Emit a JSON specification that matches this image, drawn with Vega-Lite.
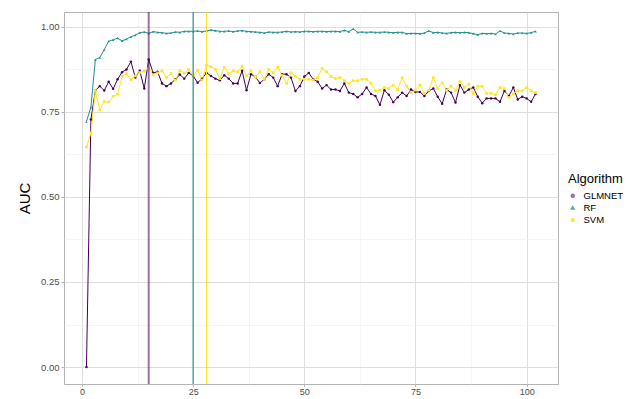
{
"$schema": "https://vega.github.io/schema/vega-lite/v6.json",
"autosize": "none",
"width": 494,
"height": 372,
"padding": {"left": 64, "top": 12, "right": 85, "bottom": 15},
"background": "white",
"config": {
  "font": "Liberation Sans",
  "view": {"stroke": "#b3b3b3", "strokeWidth": 1},
  "axis": {
    "domain": false,
    "labelColor": "#4d4d4d",
    "labelFontSize": 9.5,
    "tickColor": "#b3b3b3",
    "tickSize": 3
  }
},
"datasets": {
"auc": [
{"Algorithm":"GLMNET","iter":1,"AUC":0.000},{"Algorithm":"GLMNET","iter":2,"AUC":0.727},{"Algorithm":"GLMNET","iter":3,"AUC":0.812},{"Algorithm":"GLMNET","iter":4,"AUC":0.825},{"Algorithm":"GLMNET","iter":5,"AUC":0.812},{"Algorithm":"GLMNET","iter":6,"AUC":0.838},{"Algorithm":"GLMNET","iter":7,"AUC":0.817},{"Algorithm":"GLMNET","iter":8,"AUC":0.845},{"Algorithm":"GLMNET","iter":9,"AUC":0.866},{"Algorithm":"GLMNET","iter":10,"AUC":0.874},
{"Algorithm":"GLMNET","iter":11,"AUC":0.897},{"Algorithm":"GLMNET","iter":12,"AUC":0.850},{"Algorithm":"GLMNET","iter":13,"AUC":0.870},{"Algorithm":"GLMNET","iter":14,"AUC":0.818},{"Algorithm":"GLMNET","iter":15,"AUC":0.903},{"Algorithm":"GLMNET","iter":16,"AUC":0.864},{"Algorithm":"GLMNET","iter":17,"AUC":0.867},{"Algorithm":"GLMNET","iter":18,"AUC":0.833},{"Algorithm":"GLMNET","iter":19,"AUC":0.825},{"Algorithm":"GLMNET","iter":20,"AUC":0.833},
{"Algorithm":"GLMNET","iter":21,"AUC":0.845},{"Algorithm":"GLMNET","iter":22,"AUC":0.859},{"Algorithm":"GLMNET","iter":23,"AUC":0.847},{"Algorithm":"GLMNET","iter":24,"AUC":0.864},{"Algorithm":"GLMNET","iter":25,"AUC":0.855},{"Algorithm":"GLMNET","iter":26,"AUC":0.835},{"Algorithm":"GLMNET","iter":27,"AUC":0.847},{"Algorithm":"GLMNET","iter":28,"AUC":0.864},{"Algorithm":"GLMNET","iter":29,"AUC":0.855},{"Algorithm":"GLMNET","iter":30,"AUC":0.847},
{"Algorithm":"GLMNET","iter":31,"AUC":0.842},{"Algorithm":"GLMNET","iter":32,"AUC":0.857},{"Algorithm":"GLMNET","iter":33,"AUC":0.847},{"Algorithm":"GLMNET","iter":34,"AUC":0.833},{"Algorithm":"GLMNET","iter":35,"AUC":0.833},{"Algorithm":"GLMNET","iter":36,"AUC":0.870},{"Algorithm":"GLMNET","iter":37,"AUC":0.813},{"Algorithm":"GLMNET","iter":38,"AUC":0.860},{"Algorithm":"GLMNET","iter":39,"AUC":0.852},{"Algorithm":"GLMNET","iter":40,"AUC":0.834},
{"Algorithm":"GLMNET","iter":41,"AUC":0.845},{"Algorithm":"GLMNET","iter":42,"AUC":0.860},{"Algorithm":"GLMNET","iter":43,"AUC":0.850},{"Algorithm":"GLMNET","iter":44,"AUC":0.825},{"Algorithm":"GLMNET","iter":45,"AUC":0.860},{"Algorithm":"GLMNET","iter":46,"AUC":0.860},{"Algorithm":"GLMNET","iter":47,"AUC":0.850},{"Algorithm":"GLMNET","iter":48,"AUC":0.811},{"Algorithm":"GLMNET","iter":49,"AUC":0.825},{"Algorithm":"GLMNET","iter":50,"AUC":0.853},
{"Algorithm":"GLMNET","iter":51,"AUC":0.864},{"Algorithm":"GLMNET","iter":52,"AUC":0.845},{"Algorithm":"GLMNET","iter":53,"AUC":0.838},{"Algorithm":"GLMNET","iter":54,"AUC":0.818},{"Algorithm":"GLMNET","iter":55,"AUC":0.828},{"Algorithm":"GLMNET","iter":56,"AUC":0.815},{"Algorithm":"GLMNET","iter":57,"AUC":0.815},{"Algorithm":"GLMNET","iter":58,"AUC":0.811},{"Algorithm":"GLMNET","iter":59,"AUC":0.833},{"Algorithm":"GLMNET","iter":60,"AUC":0.806},
{"Algorithm":"GLMNET","iter":61,"AUC":0.802},{"Algorithm":"GLMNET","iter":62,"AUC":0.792},{"Algorithm":"GLMNET","iter":63,"AUC":0.802},{"Algorithm":"GLMNET","iter":64,"AUC":0.821},{"Algorithm":"GLMNET","iter":65,"AUC":0.802},{"Algorithm":"GLMNET","iter":66,"AUC":0.796},{"Algorithm":"GLMNET","iter":67,"AUC":0.770},{"Algorithm":"GLMNET","iter":68,"AUC":0.813},{"Algorithm":"GLMNET","iter":69,"AUC":0.800},{"Algorithm":"GLMNET","iter":70,"AUC":0.778},
{"Algorithm":"GLMNET","iter":71,"AUC":0.792},{"Algorithm":"GLMNET","iter":72,"AUC":0.806},{"Algorithm":"GLMNET","iter":73,"AUC":0.796},{"Algorithm":"GLMNET","iter":74,"AUC":0.815},{"Algorithm":"GLMNET","iter":75,"AUC":0.808},{"Algorithm":"GLMNET","iter":76,"AUC":0.808},{"Algorithm":"GLMNET","iter":77,"AUC":0.796},{"Algorithm":"GLMNET","iter":78,"AUC":0.811},{"Algorithm":"GLMNET","iter":79,"AUC":0.818},{"Algorithm":"GLMNET","iter":80,"AUC":0.794},
{"Algorithm":"GLMNET","iter":81,"AUC":0.773},{"Algorithm":"GLMNET","iter":82,"AUC":0.815},{"Algorithm":"GLMNET","iter":83,"AUC":0.806},{"Algorithm":"GLMNET","iter":84,"AUC":0.777},{"Algorithm":"GLMNET","iter":85,"AUC":0.828},{"Algorithm":"GLMNET","iter":86,"AUC":0.806},{"Algorithm":"GLMNET","iter":87,"AUC":0.815},{"Algorithm":"GLMNET","iter":88,"AUC":0.821},{"Algorithm":"GLMNET","iter":89,"AUC":0.794},{"Algorithm":"GLMNET","iter":90,"AUC":0.775},
{"Algorithm":"GLMNET","iter":91,"AUC":0.789},{"Algorithm":"GLMNET","iter":92,"AUC":0.789},{"Algorithm":"GLMNET","iter":93,"AUC":0.789},{"Algorithm":"GLMNET","iter":94,"AUC":0.779},{"Algorithm":"GLMNET","iter":95,"AUC":0.811},{"Algorithm":"GLMNET","iter":96,"AUC":0.796},{"Algorithm":"GLMNET","iter":97,"AUC":0.821},{"Algorithm":"GLMNET","iter":98,"AUC":0.786},{"Algorithm":"GLMNET","iter":99,"AUC":0.794},{"Algorithm":"GLMNET","iter":100,"AUC":0.789},
{"Algorithm":"GLMNET","iter":101,"AUC":0.779},{"Algorithm":"GLMNET","iter":102,"AUC":0.802},
{"Algorithm":"RF","iter":1,"AUC":0.721},{"Algorithm":"RF","iter":2,"AUC":0.763},{"Algorithm":"RF","iter":3,"AUC":0.903},{"Algorithm":"RF","iter":4,"AUC":0.909},{"Algorithm":"RF","iter":5,"AUC":0.932},{"Algorithm":"RF","iter":6,"AUC":0.957},{"Algorithm":"RF","iter":7,"AUC":0.961},{"Algorithm":"RF","iter":8,"AUC":0.966},{"Algorithm":"RF","iter":9,"AUC":0.958},{"Algorithm":"RF","iter":10,"AUC":0.963},
{"Algorithm":"RF","iter":11,"AUC":0.970},{"Algorithm":"RF","iter":12,"AUC":0.975},{"Algorithm":"RF","iter":13,"AUC":0.982},{"Algorithm":"RF","iter":14,"AUC":0.984},{"Algorithm":"RF","iter":15,"AUC":0.980},{"Algorithm":"RF","iter":16,"AUC":0.985},{"Algorithm":"RF","iter":17,"AUC":0.983},{"Algorithm":"RF","iter":18,"AUC":0.982},{"Algorithm":"RF","iter":19,"AUC":0.980},{"Algorithm":"RF","iter":20,"AUC":0.981},
{"Algorithm":"RF","iter":21,"AUC":0.984},{"Algorithm":"RF","iter":22,"AUC":0.983},{"Algorithm":"RF","iter":23,"AUC":0.986},{"Algorithm":"RF","iter":24,"AUC":0.986},{"Algorithm":"RF","iter":25,"AUC":0.986},{"Algorithm":"RF","iter":26,"AUC":0.987},{"Algorithm":"RF","iter":27,"AUC":0.985},{"Algorithm":"RF","iter":28,"AUC":0.987},{"Algorithm":"RF","iter":29,"AUC":0.990},{"Algorithm":"RF","iter":30,"AUC":0.988},
{"Algorithm":"RF","iter":31,"AUC":0.986},{"Algorithm":"RF","iter":32,"AUC":0.986},{"Algorithm":"RF","iter":33,"AUC":0.987},{"Algorithm":"RF","iter":34,"AUC":0.985},{"Algorithm":"RF","iter":35,"AUC":0.987},{"Algorithm":"RF","iter":36,"AUC":0.988},{"Algorithm":"RF","iter":37,"AUC":0.986},{"Algorithm":"RF","iter":38,"AUC":0.985},{"Algorithm":"RF","iter":39,"AUC":0.984},{"Algorithm":"RF","iter":40,"AUC":0.983},
{"Algorithm":"RF","iter":41,"AUC":0.981},{"Algorithm":"RF","iter":42,"AUC":0.984},{"Algorithm":"RF","iter":43,"AUC":0.983},{"Algorithm":"RF","iter":44,"AUC":0.983},{"Algorithm":"RF","iter":45,"AUC":0.984},{"Algorithm":"RF","iter":46,"AUC":0.986},{"Algorithm":"RF","iter":47,"AUC":0.984},{"Algorithm":"RF","iter":48,"AUC":0.985},{"Algorithm":"RF","iter":49,"AUC":0.984},{"Algorithm":"RF","iter":50,"AUC":0.986},
{"Algorithm":"RF","iter":51,"AUC":0.986},{"Algorithm":"RF","iter":52,"AUC":0.985},{"Algorithm":"RF","iter":53,"AUC":0.986},{"Algorithm":"RF","iter":54,"AUC":0.986},{"Algorithm":"RF","iter":55,"AUC":0.985},{"Algorithm":"RF","iter":56,"AUC":0.986},{"Algorithm":"RF","iter":57,"AUC":0.986},{"Algorithm":"RF","iter":58,"AUC":0.985},{"Algorithm":"RF","iter":59,"AUC":0.989},{"Algorithm":"RF","iter":60,"AUC":0.985},
{"Algorithm":"RF","iter":61,"AUC":0.993},{"Algorithm":"RF","iter":62,"AUC":0.983},{"Algorithm":"RF","iter":63,"AUC":0.984},{"Algorithm":"RF","iter":64,"AUC":0.983},{"Algorithm":"RF","iter":65,"AUC":0.984},{"Algorithm":"RF","iter":66,"AUC":0.983},{"Algorithm":"RF","iter":67,"AUC":0.983},{"Algorithm":"RF","iter":68,"AUC":0.984},{"Algorithm":"RF","iter":69,"AUC":0.983},{"Algorithm":"RF","iter":70,"AUC":0.982},
{"Algorithm":"RF","iter":71,"AUC":0.983},{"Algorithm":"RF","iter":72,"AUC":0.983},{"Algorithm":"RF","iter":73,"AUC":0.979},{"Algorithm":"RF","iter":74,"AUC":0.980},{"Algorithm":"RF","iter":75,"AUC":0.980},{"Algorithm":"RF","iter":76,"AUC":0.979},{"Algorithm":"RF","iter":77,"AUC":0.981},{"Algorithm":"RF","iter":78,"AUC":0.987},{"Algorithm":"RF","iter":79,"AUC":0.982},{"Algorithm":"RF","iter":80,"AUC":0.983},
{"Algorithm":"RF","iter":81,"AUC":0.981},{"Algorithm":"RF","iter":82,"AUC":0.980},{"Algorithm":"RF","iter":83,"AUC":0.982},{"Algorithm":"RF","iter":84,"AUC":0.983},{"Algorithm":"RF","iter":85,"AUC":0.982},{"Algorithm":"RF","iter":86,"AUC":0.983},{"Algorithm":"RF","iter":87,"AUC":0.982},{"Algorithm":"RF","iter":88,"AUC":0.979},{"Algorithm":"RF","iter":89,"AUC":0.976},{"Algorithm":"RF","iter":90,"AUC":0.980},
{"Algorithm":"RF","iter":91,"AUC":0.979},{"Algorithm":"RF","iter":92,"AUC":0.980},{"Algorithm":"RF","iter":93,"AUC":0.978},{"Algorithm":"RF","iter":94,"AUC":0.987},{"Algorithm":"RF","iter":95,"AUC":0.981},{"Algorithm":"RF","iter":96,"AUC":0.980},{"Algorithm":"RF","iter":97,"AUC":0.978},{"Algorithm":"RF","iter":98,"AUC":0.981},{"Algorithm":"RF","iter":99,"AUC":0.981},{"Algorithm":"RF","iter":100,"AUC":0.980},
{"Algorithm":"RF","iter":101,"AUC":0.982},{"Algorithm":"RF","iter":102,"AUC":0.986},
{"Algorithm":"SVM","iter":1,"AUC":0.646},{"Algorithm":"SVM","iter":2,"AUC":0.687},{"Algorithm":"SVM","iter":3,"AUC":0.812},{"Algorithm":"SVM","iter":4,"AUC":0.755},{"Algorithm":"SVM","iter":5,"AUC":0.780},{"Algorithm":"SVM","iter":6,"AUC":0.778},{"Algorithm":"SVM","iter":7,"AUC":0.795},{"Algorithm":"SVM","iter":8,"AUC":0.801},{"Algorithm":"SVM","iter":9,"AUC":0.853},{"Algorithm":"SVM","iter":10,"AUC":0.862},
{"Algorithm":"SVM","iter":11,"AUC":0.844},{"Algorithm":"SVM","iter":12,"AUC":0.855},{"Algorithm":"SVM","iter":13,"AUC":0.865},{"Algorithm":"SVM","iter":14,"AUC":0.869},{"Algorithm":"SVM","iter":15,"AUC":0.878},{"Algorithm":"SVM","iter":16,"AUC":0.859},{"Algorithm":"SVM","iter":17,"AUC":0.864},{"Algorithm":"SVM","iter":18,"AUC":0.870},{"Algorithm":"SVM","iter":19,"AUC":0.851},{"Algorithm":"SVM","iter":20,"AUC":0.862},
{"Algorithm":"SVM","iter":21,"AUC":0.843},{"Algorithm":"SVM","iter":22,"AUC":0.870},{"Algorithm":"SVM","iter":23,"AUC":0.864},{"Algorithm":"SVM","iter":24,"AUC":0.874},{"Algorithm":"SVM","iter":25,"AUC":0.857},{"Algorithm":"SVM","iter":26,"AUC":0.872},{"Algorithm":"SVM","iter":27,"AUC":0.843},{"Algorithm":"SVM","iter":28,"AUC":0.886},{"Algorithm":"SVM","iter":29,"AUC":0.882},{"Algorithm":"SVM","iter":30,"AUC":0.874},
{"Algorithm":"SVM","iter":31,"AUC":0.847},{"Algorithm":"SVM","iter":32,"AUC":0.880},{"Algorithm":"SVM","iter":33,"AUC":0.862},{"Algorithm":"SVM","iter":34,"AUC":0.870},{"Algorithm":"SVM","iter":35,"AUC":0.867},{"Algorithm":"SVM","iter":36,"AUC":0.884},{"Algorithm":"SVM","iter":37,"AUC":0.855},{"Algorithm":"SVM","iter":38,"AUC":0.870},{"Algorithm":"SVM","iter":39,"AUC":0.851},{"Algorithm":"SVM","iter":40,"AUC":0.867},
{"Algorithm":"SVM","iter":41,"AUC":0.845},{"Algorithm":"SVM","iter":42,"AUC":0.874},{"Algorithm":"SVM","iter":43,"AUC":0.864},{"Algorithm":"SVM","iter":44,"AUC":0.881},{"Algorithm":"SVM","iter":45,"AUC":0.857},{"Algorithm":"SVM","iter":46,"AUC":0.833},{"Algorithm":"SVM","iter":47,"AUC":0.864},{"Algorithm":"SVM","iter":48,"AUC":0.854},{"Algorithm":"SVM","iter":49,"AUC":0.845},{"Algorithm":"SVM","iter":50,"AUC":0.845},
{"Algorithm":"SVM","iter":51,"AUC":0.845},{"Algorithm":"SVM","iter":52,"AUC":0.843},{"Algorithm":"SVM","iter":53,"AUC":0.850},{"Algorithm":"SVM","iter":54,"AUC":0.877},{"Algorithm":"SVM","iter":55,"AUC":0.867},{"Algorithm":"SVM","iter":56,"AUC":0.853},{"Algorithm":"SVM","iter":57,"AUC":0.847},{"Algorithm":"SVM","iter":58,"AUC":0.850},{"Algorithm":"SVM","iter":59,"AUC":0.841},{"Algorithm":"SVM","iter":60,"AUC":0.833},
{"Algorithm":"SVM","iter":61,"AUC":0.841},{"Algorithm":"SVM","iter":62,"AUC":0.841},{"Algorithm":"SVM","iter":63,"AUC":0.845},{"Algorithm":"SVM","iter":64,"AUC":0.845},{"Algorithm":"SVM","iter":65,"AUC":0.833},{"Algorithm":"SVM","iter":66,"AUC":0.811},{"Algorithm":"SVM","iter":67,"AUC":0.813},{"Algorithm":"SVM","iter":68,"AUC":0.821},{"Algorithm":"SVM","iter":69,"AUC":0.818},{"Algorithm":"SVM","iter":70,"AUC":0.828},
{"Algorithm":"SVM","iter":71,"AUC":0.815},{"Algorithm":"SVM","iter":72,"AUC":0.850},{"Algorithm":"SVM","iter":73,"AUC":0.825},{"Algorithm":"SVM","iter":74,"AUC":0.806},{"Algorithm":"SVM","iter":75,"AUC":0.813},{"Algorithm":"SVM","iter":76,"AUC":0.828},{"Algorithm":"SVM","iter":77,"AUC":0.804},{"Algorithm":"SVM","iter":78,"AUC":0.813},{"Algorithm":"SVM","iter":79,"AUC":0.850},{"Algorithm":"SVM","iter":80,"AUC":0.818},
{"Algorithm":"SVM","iter":81,"AUC":0.835},{"Algorithm":"SVM","iter":82,"AUC":0.813},{"Algorithm":"SVM","iter":83,"AUC":0.825},{"Algorithm":"SVM","iter":84,"AUC":0.813},{"Algorithm":"SVM","iter":85,"AUC":0.839},{"Algorithm":"SVM","iter":86,"AUC":0.821},{"Algorithm":"SVM","iter":87,"AUC":0.831},{"Algorithm":"SVM","iter":88,"AUC":0.802},{"Algorithm":"SVM","iter":89,"AUC":0.825},{"Algorithm":"SVM","iter":90,"AUC":0.825},
{"Algorithm":"SVM","iter":91,"AUC":0.804},{"Algorithm":"SVM","iter":92,"AUC":0.804},{"Algorithm":"SVM","iter":93,"AUC":0.800},{"Algorithm":"SVM","iter":94,"AUC":0.821},{"Algorithm":"SVM","iter":95,"AUC":0.818},{"Algorithm":"SVM","iter":96,"AUC":0.792},{"Algorithm":"SVM","iter":97,"AUC":0.802},{"Algorithm":"SVM","iter":98,"AUC":0.811},{"Algorithm":"SVM","iter":99,"AUC":0.811},{"Algorithm":"SVM","iter":100,"AUC":0.821},
{"Algorithm":"SVM","iter":101,"AUC":0.811},{"Algorithm":"SVM","iter":102,"AUC":0.806}
],
"best": [
{"Algorithm":"GLMNET","iter":15},
{"Algorithm":"RF","iter":25},
{"Algorithm":"SVM","iter":28}
]
},
"encoding": {
  "x": {"field": "iter", "type": "quantitative",
    "scale": {"domain": [-4.05, 107.05], "nice": false, "zero": false},
    "axis": {"title": null, "values": [0, 12.5, 25, 37.5, 50, 62.5, 75, 87.5, 100],
      "labelExpr": "datum.value % 25 === 0 ? format(datum.value, 'd') : ''", "labelPadding": 1, "tickSize": 2.5, "labelFontSize": 9,
      "gridColor": {"condition": {"test": "datum.value % 25 !== 0", "value": "#eeeeee"}, "value": "#dedede"},
      "gridWidth": {"condition": {"test": "datum.value % 25 !== 0", "value": 0.6}, "value": 1},
      "tickOpacity": {"condition": {"test": "datum.value % 25 !== 0", "value": 0}, "value": 1}}},
  "color": {"field": "Algorithm", "type": "nominal",
    "scale": {"domain": ["GLMNET", "RF", "SVM"], "range": ["#440154", "#21908C", "#FDE725"]}}
},
"layer": [
  {
    "data": {"name": "auc"},
    "mark": {"type": "line", "strokeWidth": 1},
    "encoding": {
      "y": {"field": "AUC", "type": "quantitative",
        "scale": {"domain": [-0.0497, 1.0427], "nice": false, "zero": false},
        "axis": {"title": "AUC", "titleFontSize": 15, "titleFontWeight": "normal", "titleColor": "black", "titlePadding": 8,
          "values": [0, 0.125, 0.25, 0.375, 0.5, 0.625, 0.75, 0.875, 1],
          "labelExpr": "round(datum.value * 8) % 2 === 0 ? format(datum.value, '.2f') : ''", "labelPadding": 2,
          "gridColor": {"condition": {"test": "round(datum.value * 8) % 2 === 1", "value": "#eeeeee"}, "value": "#dedede"},
          "gridWidth": {"condition": {"test": "round(datum.value * 8) % 2 === 1", "value": 0.6}, "value": 1},
          "tickOpacity": {"condition": {"test": "round(datum.value * 8) % 2 === 1", "value": 0}, "value": 1}}},
      "color": {"field": "Algorithm", "type": "nominal",
        "legend": {"orient": "none", "legendX": 504, "legendY": 161, "title": "Algorithm",
          "titleFontSize": 13, "titleFontWeight": "normal", "titleColor": "black", "titlePadding": 5,
          "labelFontSize": 9.5, "labelColor": "black", "symbolType": "stroke", "symbolStrokeWidth": 1,
          "symbolSize": 50, "rowPadding": 1.2, "labelOffset": 6}}
    }
  },
  {
    "data": {"name": "auc"},
    "mark": {"type": "point", "filled": true, "opacity": 1},
    "encoding": {
      "y": {"field": "AUC", "type": "quantitative"},
      "shape": {"field": "Algorithm", "type": "nominal",
        "scale": {"domain": ["GLMNET", "RF", "SVM"], "range": ["circle", "triangle-up", "square"]}, "legend": null},
      "size": {"field": "Algorithm", "type": "nominal",
        "scale": {"domain": ["GLMNET", "RF", "SVM"], "range": [6, 7, 9]}, "legend": null},
      "color": {"field": "Algorithm", "type": "nominal", "legend": null}
    }
  },
  {
    "data": {"name": "best"},
    "mark": {"type": "rule"},
    "encoding": {
      "color": {"field": "Algorithm", "type": "nominal", "legend": null},
      "strokeWidth": {"field": "Algorithm", "type": "nominal",
        "scale": {"domain": ["GLMNET", "RF", "SVM"], "range": [2, 1, 1.5]}, "legend": null},
      "opacity": {"field": "Algorithm", "type": "nominal",
        "scale": {"domain": ["GLMNET", "RF", "SVM"], "range": [0.55, 1, 0.6]}, "legend": null}
    }
  }
]
}
